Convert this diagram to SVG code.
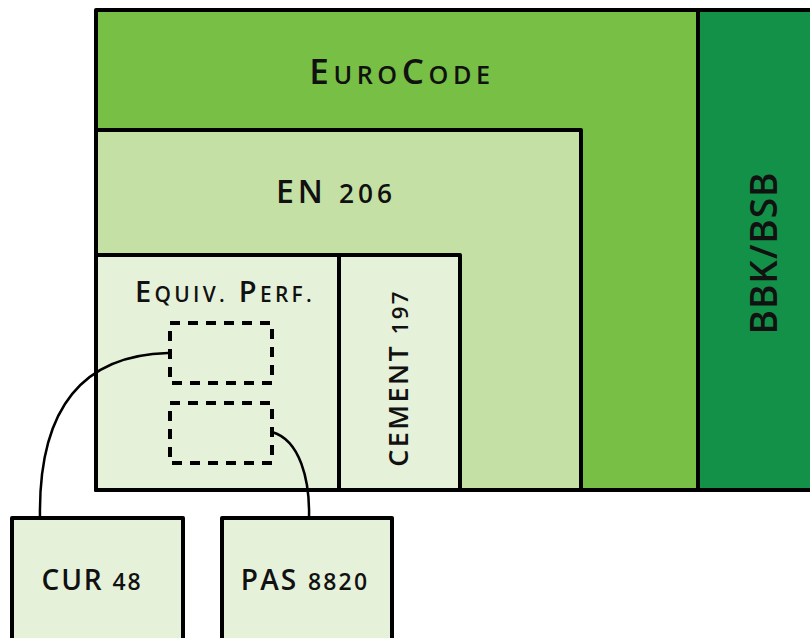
<svg xmlns="http://www.w3.org/2000/svg" width="810" height="638" viewBox="0 0 810 638">
<style>
.b{stroke:#000;stroke-width:4;stroke-linejoin:round}
.t{font-family:"Open Sans","Noto Sans",sans-serif;font-weight:600;fill:#111;text-anchor:middle}
.s{font-size:0.72em}
.n{font-size:0.82em}
.c{fill:none;stroke:#000;stroke-width:2.5}
.d{fill:none;stroke:#000;stroke-width:4;stroke-dasharray:10,8}
</style>
<rect width="810" height="638" fill="#fff"/>
<g id="eurocode">
<rect class="b" x="96" y="10" width="740" height="480" fill="#77bf45"/>
<text class="t" x="402" y="84" font-size="35" letter-spacing="4.6">E<tspan class="s">URO</tspan>C<tspan class="s">ODE</tspan></text>
</g>
<g id="bbk">
<rect class="b" x="698" y="10" width="140" height="480" fill="#139149"/>
<text class="t" transform="translate(777,253) rotate(-90)" font-size="37" font-weight="500" letter-spacing="1">BBK/BSB</text>
</g>
<g id="en206">
<rect class="b" x="96" y="130" width="485" height="360" fill="#c5e0a5"/>
<text class="t" x="336" y="203" font-size="32" letter-spacing="4">EN <tspan class="n">206</tspan></text>
</g>
<g id="equiv">
<rect class="b" x="96" y="255" width="243" height="235" fill="#e6f1da"/>
<text class="t" x="225" y="302" font-size="29" letter-spacing="3.3">E<tspan class="s">QUIV.</tspan> P<tspan class="s">ERF.</tspan></text>
<rect class="d" x="170" y="323" width="102" height="60"/>
<rect class="d" x="170" y="403" width="102" height="60"/>
</g>
<g id="cement">
<rect class="b" x="339" y="255" width="121" height="235" fill="#e6f1da"/>
<text class="t" transform="translate(408,378) rotate(-90)" font-size="27" letter-spacing="2.4">CEMENT <tspan class="n">197</tspan></text>
</g>
<g id="cur48">
<rect class="b" x="12" y="518" width="171" height="130" fill="#e6f1da"/>
<text class="t" x="92" y="590" font-size="28" letter-spacing="1.8">CUR <tspan class="n">48</tspan></text>
</g>
<g id="pas8820">
<rect class="b" x="222" y="518" width="170" height="130" fill="#e6f1da"/>
<text class="t" x="305" y="590" font-size="28" letter-spacing="2.2">PAS <tspan class="n">8820</tspan></text>
</g>
<g id="connectors">
<path class="c" d="M168,353 C90,355 38,400 40,518"/>
<path class="c" d="M272,432 C300,440 310,480 309,518"/>
</g>
</svg>
